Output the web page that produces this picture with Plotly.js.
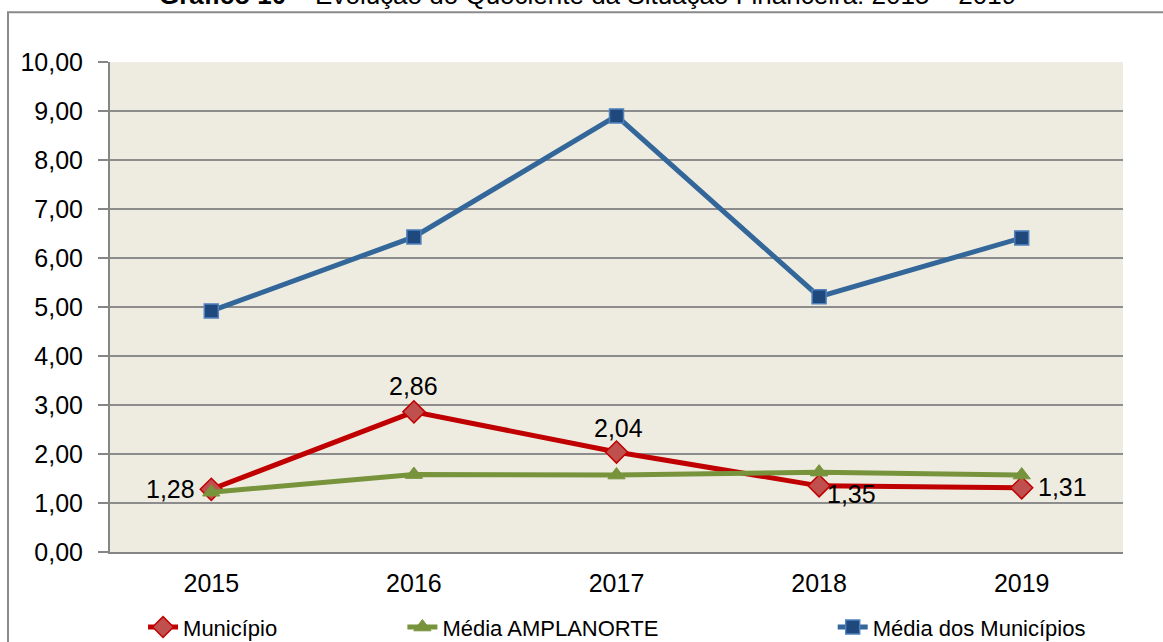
<!DOCTYPE html>
<html>
<head>
<meta charset="utf-8">
<script src="https://cdn.plot.ly/plotly-3.0.1.min.js"></script>
<style>html,body{margin:0;padding:0;background:#fff;}#chart{width:1163px;height:642px;}</style>
</head>
<body>
<div id="chart"></div>
<script>
const years = ['2015', '2016', '2017', '2018', '2019'];
const municipio = [1.28, 2.86, 2.04, 1.35, 1.31];
const mediaAmplanorte = [1.22, 1.58, 1.57, 1.63, 1.57];
const mediaMunicipios = [4.92, 6.43, 8.90, 5.21, 6.41];
const municipioLabels = ['1,28', '2,86', '2,04', '1,35', '1,31'];
const seriesNames = ['Município', 'Média AMPLANORTE', 'Média dos Municípios'];
const titleText = '<b>Gráfico 10</b> – Evolução do Quociente da Situação Financeira: 2015 – 2019';

const FONT = 'Liberation Sans, Arial, sans-serif';

const traces = [
  {
    x: years, y: municipio, name: seriesNames[0], type: 'scatter', mode: 'lines+markers',
    line: {color: '#C00000', width: 5},
    marker: {symbol: 'diamond', size: 17, color: '#C0504D', line: {color: '#C00000', width: 1.5}},
    legend: 'legend'
  },
  {
    x: years, y: mediaAmplanorte, name: seriesNames[1], type: 'scatter', mode: 'lines+markers',
    line: {color: '#77933C', width: 5},
    marker: {symbol: 'triangle-up', size: 15, color: '#77933C', line: {color: '#77933C', width: 1}},
    legend: 'legend2'
  },
  {
    x: years, y: mediaMunicipios, name: seriesNames[2], type: 'scatter', mode: 'lines+markers',
    line: {color: '#336699', width: 5},
    marker: {symbol: 'square', size: 14, color: '#1F497D', line: {color: '#4F81BD', width: 1.5}},
    legend: 'legend3'
  }
];

// label offsets (style only)
const labelStyle = [
  {xanchor: 'right', yanchor: 'middle', xshift: -14, yshift: 0},
  {xanchor: 'center', yanchor: 'bottom', xshift: 0, yshift: 10},
  {xanchor: 'center', yanchor: 'bottom', xshift: 2, yshift: 8},
  {xanchor: 'left', yanchor: 'middle', xshift: 6, yshift: -8},
  {xanchor: 'left', yanchor: 'middle', xshift: 14, yshift: 1}
];

// category axis: annotations positioned by category index
const annotations = municipio.map((v, i) => Object.assign({
  x: i, y: v, xref: 'x', yref: 'y', text: municipioLabels[i], showarrow: false,
  font: {family: FONT, size: 25, color: '#000'}
}, labelStyle[i]));

annotations.push({
  xref: 'paper', yref: 'paper', x: 0.471, y: 1.137, xanchor: 'center', yanchor: 'middle',
  text: titleText, showarrow: false, font: {family: FONT, size: 26, color: '#000'}
});

const legendBase = {
  orientation: 'h', xref: 'container', yref: 'container', y: 0.023, yanchor: 'middle', xanchor: 'left',
  bgcolor: 'rgba(0,0,0,0)', font: {family: FONT, size: 22, color: '#000'}
};

const layout = {
  width: 1163, height: 642,
  margin: {l: 110, r: 40, t: 62, b: 90},
  paper_bgcolor: '#FFFFFF',
  plot_bgcolor: '#EEECE1',
  separators: ', ',
  showlegend: true,
  xaxis: {
    type: 'category', range: [-0.5, 4.5], showgrid: false, zeroline: false,
    showline: true, linecolor: '#868686', linewidth: 2,
    ticks: '', tickfont: {family: FONT, size: 25, color: '#000'}, ticklabelstandoff: 8
  },
  yaxis: {
    range: [0, 10], dtick: 1, tickformat: '.2f', showgrid: true, gridcolor: '#8C8C8C', gridwidth: 2,
    zeroline: false, showline: true, linecolor: '#868686', linewidth: 2,
    ticks: 'outside', ticklen: 10, tickcolor: '#868686', tickwidth: 2,
    tickfont: {family: FONT, size: 25, color: '#000'}, ticklabelstandoff: 10
  },
  legend: Object.assign({}, legendBase, {x: 0.123}),
  legend2: Object.assign({}, legendBase, {x: 0.346}),
  legend3: Object.assign({}, legendBase, {x: 0.716}),
  annotations: annotations,
  shapes: [{
    type: 'rect', xref: 'paper', yref: 'paper', x0: -0.1007, x1: 1.2, y0: -0.4, y1: 1.1014,
    line: {color: '#8A8A8A', width: 2}, fillcolor: 'rgba(0,0,0,0)', layer: 'below'
  }]
};

Plotly.newPlot('chart', traces, layout, {staticPlot: true, displayModeBar: false});
</script>
</body>
</html>
